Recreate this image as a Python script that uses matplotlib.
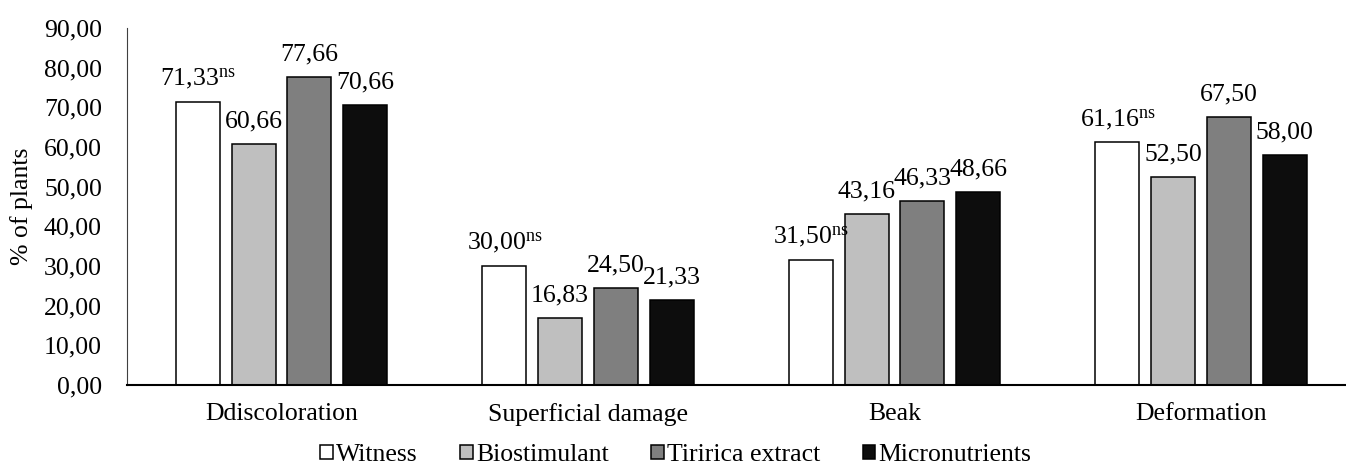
#!/usr/bin/env python
"""
Bar chart of fruit defects (% of plants) per treatment.
"""

import numpy as np
import matplotlib
matplotlib.use('Agg')  # Non-interactive backend
import matplotlib.pyplot as plt
from matplotlib.ticker import FuncFormatter

# ========================================
# Data
# ========================================
categories = ['Ddiscoloration', 'Superficial damage', 'Beak', 'Deformation']
treatments = ['Witness', 'Biostimulant', 'Tiririca extract', 'Micronutrients']

witness = [71.33, 30.00, 31.50, 61.16]
biostimulant = [60.66, 16.83, 43.16, 52.50]
tiririca = [77.66, 24.50, 46.33, 67.50]
micronutrients = [70.66, 21.33, 48.66, 58.00]

series = [witness, biostimulant, tiririca, micronutrients]
colors = ['#FFFFFF', '#BFBFBF', '#7F7F7F', '#0D0D0D']
# first treatment is flagged as not significant
superscript = ['ns', '', '', '']

# ========================================
# Style
# ========================================
plt.rcParams['font.family'] = ['Liberation Serif', 'DejaVu Serif']
plt.rcParams['mathtext.fontset'] = 'custom'
plt.rcParams['mathtext.rm'] = 'Liberation Serif'
plt.rcParams['mathtext.it'] = 'Liberation Serif:italic'
plt.rcParams['mathtext.bf'] = 'Liberation Serif:bold'
FS = 18.5


def fmt_comma(v, pos=None):
    return f'{v:.2f}'.replace('.', ',')


fig = plt.figure(figsize=(13.46, 4.70), dpi=100)
ax = fig.add_axes([127 / 1346, 1 - 385 / 470, 1 - 127 / 1346, (385 - 28) / 470])

x = np.arange(len(categories))
pitch = 0.1817
width = 0.1436

for i, (vals, col, name) in enumerate(zip(series, colors, treatments)):
    pos = x + (i - 1.5) * pitch
    bars = ax.bar(pos, vals, width, color=col, edgecolor='black',
                  linewidth=1.1, label=name, zorder=2)
    for b, v in zip(bars, vals):
        txt = fmt_comma(v)
        if superscript[i]:
            txt += r'$^{\mathrm{' + superscript[i] + '}}$'
        ax.annotate(txt, (b.get_x() + b.get_width() / 2, v),
                    xytext=(0, 12), textcoords='offset points',
                    ha='center', va='baseline', fontsize=FS)

ax.set_xlim(-0.504, 3.473)
ax.set_ylim(0, 90)
ax.set_yticks(np.arange(0, 91, 10))
ax.yaxis.set_major_formatter(FuncFormatter(fmt_comma))
ax.set_xticks(x)
ax.set_xticklabels(categories)
ax.tick_params(axis='y', length=0, pad=18, labelsize=FS)
ax.tick_params(axis='x', length=0, pad=13, labelsize=FS)
ax.set_ylabel('% of plants', fontsize=FS, labelpad=8)

ax.spines['top'].set_visible(False)
ax.spines['right'].set_visible(False)
ax.spines['left'].set_linewidth(0.8)
ax.spines['left'].set_color('#404040')
ax.spines['bottom'].set_linewidth(1.5)

fig.legend(loc='center', bbox_to_anchor=(0.502, 1 - 455 / 470), ncol=4,
           frameon=False, fontsize=FS, handlelength=0.5, handleheight=0.5,
           handletextpad=0.12, columnspacing=1.65, borderpad=0)

plt.savefig('out.png', dpi=100)
plt.close()
